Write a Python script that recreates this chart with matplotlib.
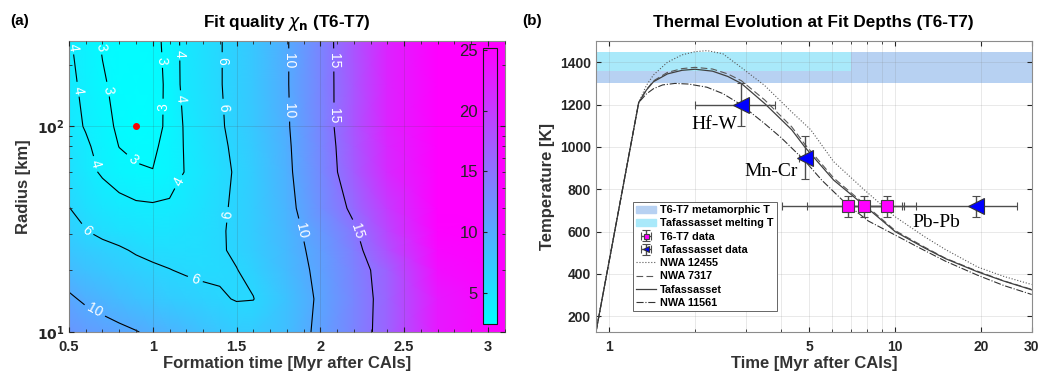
import numpy as np
import matplotlib
matplotlib.use("Agg")
import matplotlib.pyplot as plt
from matplotlib.patches import Patch
from matplotlib.ticker import FixedLocator, MultipleLocator, NullFormatter, LogLocator

plt.rcParams['font.family'] = ['Liberation Sans', 'DejaVu Sans']
plt.rcParams['mathtext.fontset'] = 'dejavusans'

# ---- panel (a): fit quality grid ----
form_time = [0.5, 0.6, 0.7, 0.8, 0.9, 1.0, 1.1, 1.2, 1.3, 1.4, 1.5, 1.6, 1.8, 2.0, 2.2, 2.4, 2.7, 3.1]
radius = [10, 14.5, 20, 25, 31, 40, 60, 80, 100, 160, 260]
chi_r10 = [11.8, 11.3, 10.9, 10.5, 10.1, 9.6, 9.1, 8.6, 8.0, 7.5, 7.0, 7.1, 8.2, 10.7, 13.4, 16.3, 23, 28]
chi_r14 = [10.4, 9.6, 9.0, 8.4, 7.9, 7.4, 7.0, 6.7, 6.45, 6.2, 5.9, 5.95, 7.9, 10.5, 13.2, 16.3, 23, 28]
chi_r20 = [8.5, 7.9, 7.4, 7.0, 6.6, 6.3, 6.05, 5.8, 5.65, 5.7, 5.95, 6.5, 8.5, 10.7, 13.5, 16.5, 24, 29]
chi_r25 = [7.5, 7.0, 6.6, 6.25, 5.8, 5.5, 5.35, 5.35, 5.5, 5.8, 6.3, 6.9, 8.7, 11.0, 13.9, 18, 24.5, 29]
chi_r31 = [6.7, 6.05, 5.5, 5.1, 4.9, 4.8, 4.85, 5.1, 5.4, 5.8, 6.35, 7.0, 8.9, 11.4, 14.6, 19, 25, 29]
chi_r40 = [6.05, 5.3, 4.8, 4.4, 4.2, 4.15, 4.2, 4.6, 5.1, 5.7, 6.3, 7.0, 9.1, 12.3, 15.7, 20, 25.5, 29]
chi_r60 = [5.3, 4.5, 3.8, 3.35, 3.1, 3.02, 3.35, 4.1, 4.8, 5.5, 6.2, 7.0, 9.4, 12.9, 17.0, 21.5, 26.5, 30]
chi_r80 = [4.9, 4.2, 3.55, 2.98, 2.8, 2.85, 3.3, 4.15, 4.9, 5.65, 6.35, 7.15, 9.55, 13.0, 17.3, 21.8, 26.8, 30]
chi_r100 = [4.5, 3.9, 3.3, 2.85, 2.5, 2.7, 3.2, 4.2, 5.0, 5.8, 6.5, 7.3, 9.7, 13.2, 17.6, 22, 27, 30]
chi_r160 = [4.3, 3.7, 3.1, 2.75, 2.65, 2.75, 3.15, 4.5, 5.2, 5.9, 6.6, 7.4, 9.8, 13.3, 17.5, 22, 27, 30]
chi_r260 = [4.1, 3.5, 2.9, 2.75, 2.7, 2.8, 3.2, 4.53, 5.2, 5.9, 6.6, 7.4, 9.8, 13.3, 17.6, 22, 27, 30]
chi_levels = [3, 4, 6, 10, 15]
best_time, best_radius = 0.9, 100

# where the contour labels sit (time, radius)
label_spots = [(0.536, 242), (0.545, 150), (0.67, 242), (0.72, 150), (1.06, 209), (1.06, 124),
               (1.16, 226), (1.18, 137), (1.415, 209), (1.43, 124), (1.81, 209), (1.82, 120),
               (2.08, 209), (2.08, 113), (0.64, 65), (0.86, 66), (1.185, 52), (1.455, 37),
               (1.875, 31), (2.21, 31), (0.62, 32), (1.26, 18.7), (0.66, 13.0)]

# ---- panel (b): thermal histories ----
taf_t = [0.9, 1.27, 1.35, 1.43, 1.6, 1.8, 2.0, 2.3, 2.6, 2.9, 3.5, 4.35, 4.83, 6.1, 7.76, 10, 12.7, 15, 19.4, 24, 30]
taf_T = [125, 1210, 1268, 1308, 1345, 1362, 1367, 1358, 1333, 1300, 1205, 1081, 1000, 843, 726, 600, 522, 472, 410, 366, 325]
nwa7317_t = taf_t
nwa7317_T = [125, 1210, 1270, 1312, 1352, 1370, 1376, 1368, 1345, 1313, 1222, 1095, 1013, 853, 733, 605, 526, 474, 413, 367, 327]
nwa12455_t = [0.9, 1.27, 1.35, 1.43, 1.6, 1.8, 2.0, 2.2, 2.5, 2.9, 3.5, 4.35, 5.07, 6.1, 7.76, 10, 12.7, 15, 19.4, 24, 30]
nwa12455_T = [125, 1210, 1290, 1340, 1400, 1435, 1450, 1455, 1440, 1375, 1290, 1165, 1081, 930, 800, 670, 575, 515, 433, 388, 350]
nwa11561_t = [0.9, 1.27, 1.35, 1.43, 1.54, 1.7, 1.9, 2.2, 2.5, 2.89, 3.5, 4.0, 4.83, 5.54, 6.7, 8.06, 10.8, 12, 15, 19.4, 24, 30]
nwa11561_T = [125, 1210, 1250, 1275, 1293, 1300, 1297, 1282, 1252, 1200, 1110, 1043, 935, 843, 735, 650, 560, 527, 460, 394, 345, 303]

meta_band = (1300, 1450)
melt_band = (1360, 1450)
melt_tmax = 7.0

hfw = dict(t=2.9, terr=0.9, T=1200, Terr=100)
mncr = dict(t=4.85, terr=0.25, T=950, Terr=100)
pbpb_taf = dict(t=19.2, terr=[[8.6], [7.4]], T=720, Terr=50)
t6t7_t = [6.86, 7.8, 9.4]
t6t7_terr = [2.84, 2.9, 2.4]
t6t7_T = [720, 720, 720]
t6t7_Terr = 50

fig = plt.figure(figsize=(10.4, 3.77), dpi=100)
ax1 = fig.add_axes([0.0663, 0.119, 0.419, 0.772])
ax2 = fig.add_axes([0.573, 0.119, 0.419, 0.772])
cax = fig.add_axes([0.4644, 0.1406, 0.0135, 0.732])

tick_kw = dict(direction='in', top=True, right=True, which='both', colors='0.15')

X, Y = np.meshgrid(form_time, radius)
Z = np.array([chi_r10, chi_r14, chi_r20, chi_r25, chi_r31, chi_r40,
              chi_r60, chi_r80, chi_r100, chi_r160, chi_r260])
mesh = ax1.pcolormesh(X, Y, Z, cmap='cool', vmin=2.4, vmax=25.2, shading='gouraud')
ax1.set_yscale('log')
ax1.set_xlim(0.5, 3.1)
ax1.set_ylim(10, 260)
cs = ax1.contour(X, Y, Z, levels=chi_levels, colors='k', linewidths=0.8)
ax1.clabel(cs, fmt='%d', colors='white', fontsize=10, inline=True, inline_spacing=4,
           manual=label_spots)
ax1.plot(best_time, best_radius, 'o', color='red', ms=4)
ax1.set_xticks([0.5, 1, 1.5, 2, 2.5, 3])
ax1.set_xticklabels(['0.5', '1', '1.5', '2', '2.5', '3'], fontweight='bold')
ax1.xaxis.set_minor_locator(MultipleLocator(0.1))
ax1.set_yticks([10, 100])
ax1.set_yticklabels([r'$\mathbf{10^1}$', r'$\mathbf{10^2}$'])
ax1.yaxis.set_minor_locator(LogLocator(subs=np.arange(2, 10)))
ax1.yaxis.set_minor_formatter(NullFormatter())
ax1.tick_params(labelsize=10.5, **tick_kw)
ax1.tick_params(axis='x', pad=6)
ax1.tick_params(axis='y', labelsize=10)
ax1.set_axisbelow(False)
ax1.grid(which='major', color='0.3', alpha=0.2, lw=0.6)
ax1.set_xlabel('Formation time [Myr after CAIs]', fontweight='bold', fontsize=12, color='0.2', labelpad=1)
ax1.set_ylabel('Radius [km]', fontweight='bold', fontsize=12, color='0.2')
ax1.set_title(r'Fit quality $\chi_{\mathbf{n}}$ (T6-T7)', fontweight='bold', fontsize=12.3, pad=10)
for s in ax1.spines.values():
    s.set_color('0.55')

cb = fig.colorbar(mesh, cax=cax, ticks=[5, 10, 15, 20, 25])
cax.yaxis.set_ticks_position('left')
cax.tick_params(direction='in', labelsize=12, colors='0.15', length=3)
cb.outline.set_edgecolor('0.1')
cb.outline.set_linewidth(0.8)

# panel b
ax2.axhspan(meta_band[0], meta_band[1], color='#b7d1f2', lw=0, zorder=0.5)
ax2.fill_between([0.9, melt_tmax], melt_band[0], melt_band[1], color='#a9e9fa', lw=0, zorder=0.6)

l_12455, = ax2.plot(nwa12455_t, nwa12455_T, ls=':', color='0.35', lw=0.8)
l_7317, = ax2.plot(nwa7317_t, nwa7317_T, ls=(0, (6, 3)), color='0.35', lw=0.8)
l_taf, = ax2.plot(taf_t, taf_T, ls='-', color='0.25', lw=0.9)
l_11561, = ax2.plot(nwa11561_t, nwa11561_T, ls='-.', color='0.2', lw=0.8)

eb_kw = dict(ecolor='0.3', elinewidth=1.0, capsize=3, capthick=1.0, ls='none')
e_t6 = ax2.errorbar(t6t7_t, t6t7_T, xerr=t6t7_terr, yerr=t6t7_Terr, marker='s', ms=9,
                    mfc='magenta', mec='0.25', mew=0.8, zorder=4, **eb_kw)
for d in (hfw, mncr, pbpb_taf):
    e_taf = ax2.errorbar(d['t'], d['T'], xerr=d['terr'], yerr=d['Terr'], marker='<', ms=11,
                         mfc='blue', mec='0.2', mew=0.8, zorder=5, **eb_kw)

ax2.text(2.33, 1105, 'Hf-W', family='Liberation Serif', fontsize=14, ha='center', va='center')
ax2.text(3.68, 882, 'Mn-Cr', family='Liberation Serif', fontsize=14, ha='center', va='center')
ax2.text(13.9, 644, 'Pb-Pb', family='Liberation Serif', fontsize=14, ha='center', va='center')

ax2.set_xscale('log')
ax2.set_xlim(0.9, 30)
ax2.set_ylim(125, 1500)
ax2.xaxis.set_major_locator(FixedLocator([1, 5, 10, 20, 30]))
ax2.xaxis.set_minor_locator(FixedLocator([2, 3, 4, 6, 7, 8, 9]))
ax2.xaxis.set_minor_formatter(NullFormatter())
ax2.set_xticklabels(['1', '5', '10', '20', '30'], fontweight='bold')
ax2.set_yticks([200, 400, 600, 800, 1000, 1200, 1400])
ax2.set_yticklabels(['200', '400', '600', '800', '1000', '1200', '1400'], fontweight='bold')
ax2.tick_params(labelsize=10, **tick_kw)
ax2.tick_params(axis='x', pad=6)
ax2.grid(which='both', color='0.5', alpha=0.2, lw=0.6)
ax2.set_xlabel('Time [Myr after CAIs]', fontweight='bold', fontsize=12, color='0.2', labelpad=1)
ax2.set_ylabel('Temperature [K]', fontweight='bold', fontsize=12, color='0.2')
ax2.set_title('Thermal Evolution at Fit Depths (T6-T7)', fontweight='bold', fontsize=12.3, pad=10)
for s in ax2.spines.values():
    s.set_color('0.55')

handles = [Patch(color='#b7d1f2'), Patch(color='#a9e9fa'), e_t6, e_taf,
           l_12455, l_7317, l_taf, l_11561]
labels = ['T6-T7 metamorphic T', 'Tafassasset melting T', 'T6-T7 data', 'Tafassasset data',
          'NWA 12455', 'NWA 7317', 'Tafassasset', 'NWA 11561']
lg = ax2.legend(handles, labels, loc='lower left', bbox_to_anchor=(0.085, 0.072),
                prop={'weight': 'bold', 'size': 7.8}, frameon=True, fancybox=False,
                edgecolor='0.4', framealpha=1, borderaxespad=0, handlelength=1.8,
                labelspacing=0.3, borderpad=0.3, handletextpad=0.4, markerscale=0.4)
lg.get_frame().set_linewidth(0.7)

fig.text(0.01, 0.935, '(a)', fontweight='bold', fontsize=11)
fig.text(0.502, 0.935, '(b)', fontweight='bold', fontsize=11)

fig.savefig('out.png', dpi=100)
